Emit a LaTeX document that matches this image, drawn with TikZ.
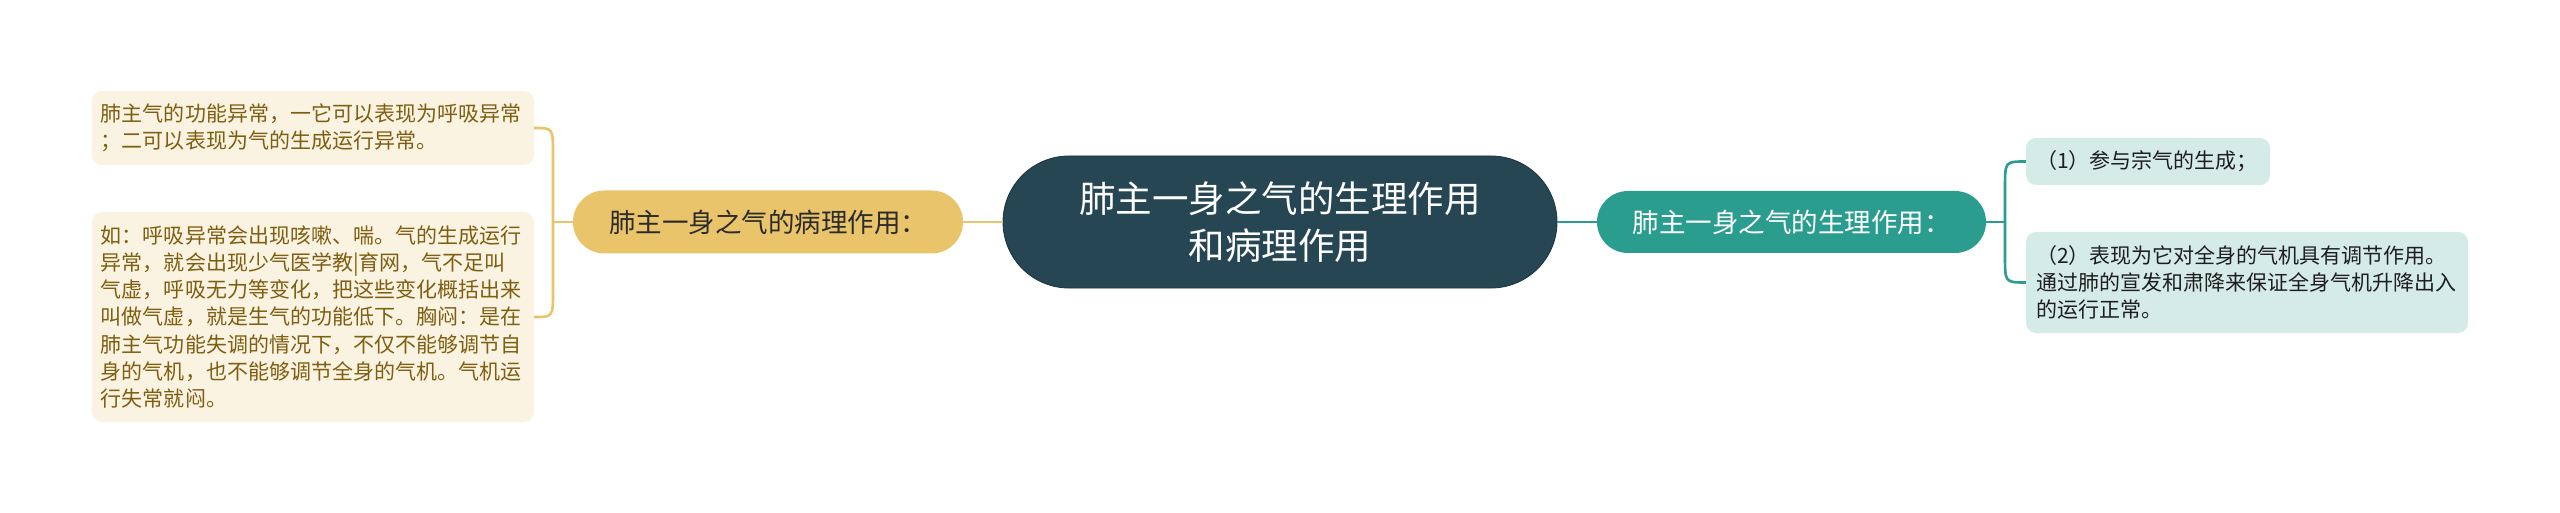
\documentclass[tikz,border=0pt]{standalone}
\usepackage{fontspec}
\setmainfont{Noto Sans CJK SC}
\usetikzlibrary{calc}
\definecolor{cdark}{HTML}{264653}
\definecolor{cdarkline}{HTML}{1B333D}
\definecolor{cteal}{HTML}{2A9D8F}
\definecolor{cyel}{HTML}{E9C46A}
\definecolor{leafLfill}{HTML}{FBF3E2}
\definecolor{leafLtext}{HTML}{7E5E10}
\definecolor{leafRfill}{HTML}{D5EBE8}
\definecolor{leafRtext}{HTML}{1E1E1E}
\definecolor{yeltext}{HTML}{2B2B2B}
\tikzset{
  leafbase/.style={rounded corners=10bp, inner ysep=0pt, align=left,
    font=\fontsize{21bp}{27bp}\selectfont},
  leafL/.style={leafbase, fill=leafLfill, text=leafLtext, inner xsep=9bp, text width=424bp, minimum height=#1},
  leafR/.style={leafbase, fill=leafRfill, text=leafRtext, inner xsep=10bp, minimum height=#1},
  pill/.style={inner sep=0pt, align=center},
  linkY/.style={draw=cyel, line width=2.6bp},
  linkT/.style={draw=cteal, line width=2.6bp},
}
\begin{document}
\begin{tikzpicture}[x=1bp,y=-1bp]
\path[fill=white,use as bounding box] (0,0) rectangle (2560,513);

% central
\node[pill, fill=cdark, draw=cdarkline, line width=0.8bp, rounded corners=66bp,
  minimum width=554bp, minimum height=132bp, text=white,
  font=\fontsize{36.5bp}{47bp}\selectfont] (root) at (1280,222)
  {肺主一身之气的生理作用\\和病理作用};

% left branch
\node[pill, fill=cyel, rounded corners=31.5bp, minimum width=390bp, minimum height=63bp,
  text=yeltext, font=\fontsize{26.5bp}{30bp}\selectfont] (yel) at (768,222)
  {肺主一身之气的病理作用：};

\node[leafL=74bp] (tl) at (313,128)
  {肺主气的功能异常，一它可以表现为呼吸异常\\；二可以表现为气的生成运行异常。};
\node[leafL=210bp] (bl) at (313,317)
  {如：呼吸异常会出现咳嗽、喘。气的生成运行\\异常，就会出现少气医学教|育网，气不足叫\\气虚，呼吸无力等变化，把这些变化概括出来\\叫做气虚，就是生气的功能低下。胸闷：是在\\肺主气功能失调的情况下，不仅不能够调节自\\身的气机，也不能够调节全身的气机。气机运\\行失常就闷。};

% right branch
\node[pill, fill=cteal, rounded corners=31bp, minimum width=389bp, minimum height=62bp,
  text=white, font=\fontsize{26.5bp}{30bp}\selectfont] (teal) at (1791.5,222)
  {肺主一身之气的生理作用：};

\node[leafR=47bp, text width=224bp] (tr) at (2148,161.5)
  {（1）参与宗气的生成；};
\node[leafR=101bp, text width=422bp] (br) at (2247,282.5)
  {（2）表现为它对全身的气机具有调节作用。\\通过肺的宣发和肃降来保证全身气机升降出入\\的运行正常。};

% connectors
\coordinate (lb) at (553,222);
\coordinate (rb) at (2005,222);
\draw[linkY] (yel.east) -- (root.west);
\draw[linkT] (root.east) -- (teal.west);
\draw[linkY] (yel.west) -- (lb);
\draw[linkY] (lb) -- ($(lb |- tl.east)+(0,26)$) .. controls (lb |- tl.east) .. (tl.east);
\draw[linkY] (lb) -- ($(lb |- bl.east)+(0,-26)$) .. controls (lb |- bl.east) .. (bl.east);
\draw[linkT] (teal.east) -- (rb);
\draw[linkT] (rb) -- ($(rb |- tr.west)+(0,26)$) .. controls (rb |- tr.west) .. (tr.west);
\draw[linkT] (rb) -- ($(rb |- br.west)+(0,-26)$) .. controls (rb |- br.west) .. (br.west);
\end{tikzpicture}
\end{document}
